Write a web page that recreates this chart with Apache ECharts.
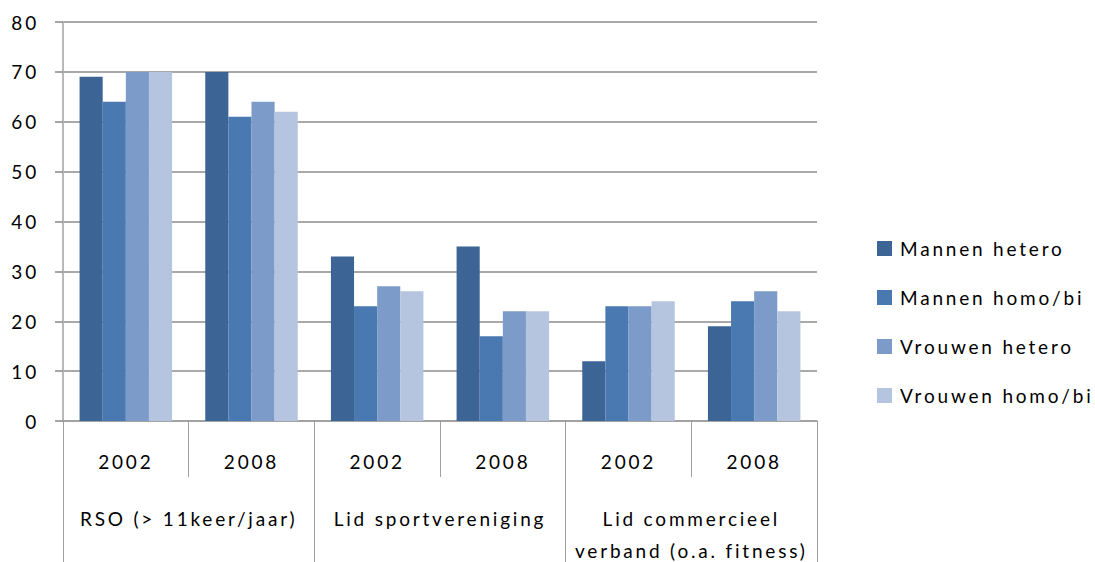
<!DOCTYPE html>
<html>
<head>
<meta charset="utf-8">
<script src="https://cdn.jsdelivr.net/npm/echarts@6/dist/echarts.min.js"></script>
<style>
  html, body { margin: 0; padding: 0; background: #fff; }
  #myCharts { width: 1095px; height: 562px; }
  /* pdf-like wide spacing of the original Calibri text */
  #myCharts text { letter-spacing: 2.8px; }
</style>
</head>
<body>
<div id="myCharts"></div>
<script>
// jaren per groep (onderste as niveau 1)
var years = ['2002', '2008', '2002', '2008', '2002', '2008'];
// groepen (as niveau 2)
var groups = ['RSO (> 11keer/jaar)', 'Lid sportvereniging', 'Lid commercieel\nverband (o.a. fitness)'];
var seriesNames = ['Mannen hetero', 'Mannen homo/bi', 'Vrouwen hetero', 'Vrouwen homo/bi'];
var mannenHetero = [69, 70, 33, 35, 12, 19];
var mannenHomo = [64, 61, 23, 17, 23, 24];
var vrouwenHetero = [70, 64, 27, 22, 23, 26];
var vrouwenHomo = [70, 62, 26, 22, 24, 22];
var yTicks = [0, 10, 20, 30, 40, 50, 60, 70, 80];

var colors = ['#3C6494', '#4A78B0', '#7D9BC9', '#B5C4DF'];
var font = 'Lato, "Open Sans", sans-serif';

var chart = echarts.init(document.getElementById('myCharts'), null, { renderer: 'svg' });

var values = [mannenHetero, mannenHomo, vrouwenHetero, vrouwenHomo];
var series = seriesNames.map(function (name, i) {
    return {
        name: name,
        type: 'bar',
        xAxisIndex: 0,
        barWidth: '18.4%',
        barGap: '0%',
        itemStyle: { color: colors[i] },
        data: values[i]
    };
});

chart.setOption({
    animation: false,
    color: colors,
    grid: {
        left: 63,
        right: 278,
        top: 22,
        bottom: 141,
        containLabel: false,
        outerBoundsMode: 'none'
    },
    legend: {
        orient: 'vertical',
        left: 872,
        top: 234,
        itemWidth: 15,
        itemHeight: 15,
        itemGap: 30,
        icon: 'rect',
        textStyle: { fontFamily: font, fontSize: 19, color: '#000', padding: [0, 0, 0, 3] },
        data: seriesNames
    },
    xAxis: [{
        type: 'category',
        data: years,
        position: 'bottom',
        axisLine: { show: true, lineStyle: { color: '#a0a0a0', width: 1.5 } },
        axisTick: { show: true, length: 56, lineStyle: { color: '#a0a0a0', width: 1 } },
        axisLabel: { margin: 31, fontFamily: font, fontSize: 19, color: '#000' },
        splitLine: { show: false }
    }, {
        type: 'category',
        data: groups,
        position: 'bottom',
        axisLine: { show: false },
        axisTick: { show: true, length: 141, lineStyle: { color: '#a0a0a0', width: 1 } },
        axisLabel: { margin: 81, fontFamily: font, fontSize: 19, lineHeight: 32, color: '#000', verticalAlign: 'top' },
        splitLine: { show: false }
    }],
    yAxis: {
        type: 'value',
        min: yTicks[0],
        max: yTicks[yTicks.length - 1],
        interval: 10,
        axisLine: { show: true, lineStyle: { color: '#b8b8b8', width: 2 } },
        axisTick: { show: true, length: 8, lineStyle: { color: '#888', width: 1.5 } },
        axisLabel: { margin: 24, fontFamily: font, fontSize: 19, color: '#000' },
        splitLine: { show: true, lineStyle: { color: '#8c8c8c', width: 1.5 } }
    },
    series: series
});
</script>
</body>
</html>
